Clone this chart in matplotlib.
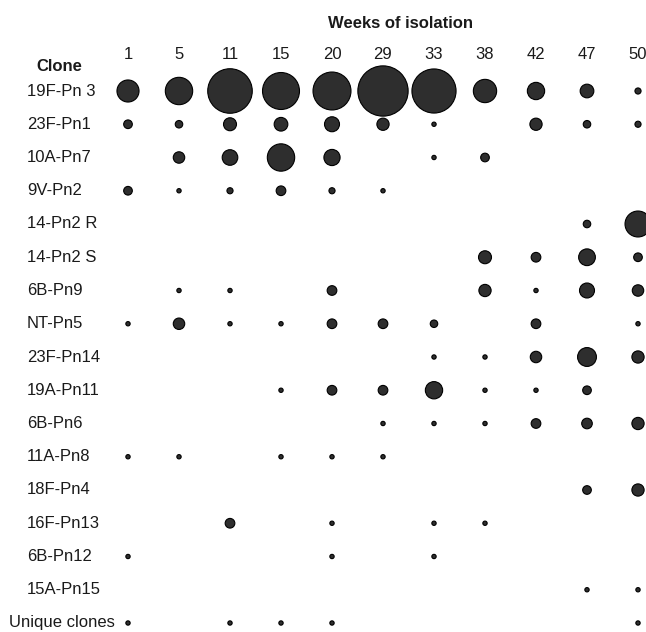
import matplotlib
matplotlib.use("Agg")
import matplotlib.pyplot as plt
import numpy as np

plt.rcParams["font.family"] = ["Liberation Sans", "DejaVu Sans"]

# ******************
# Data
# ******************
weeks = [1, 5, 11, 15, 20, 29, 33, 38, 42, 47, 50]

clones = ["19F-Pn 3", "23F-Pn1", "10A-Pn7", "9V-Pn2", "14-Pn2 R", "14-Pn2 S",
          "6B-Pn9", "NT-Pn5", "23F-Pn14", "19A-Pn11", "6B-Pn6", "11A-Pn8",
          "18F-Pn4", "16F-Pn13", "6B-Pn12", "15A-Pn15", "Unique clones"]

# isolates per clone and week (0 = none)
c_19f_pn3 = [26, 40, 106, 73, 77, 135, 104, 29, 16, 10, 2]
c_23f_pn1 = [4, 3, 9, 10, 12, 8, 1, 0, 8, 3, 2]
c_10a_pn7 = [0, 7, 13, 40, 14, 0, 1, 4, 0, 0, 0]
c_9v_pn2 = [4, 1, 2, 5, 2, 1, 0, 0, 0, 0, 0]
c_14_pn2r = [0, 0, 0, 0, 0, 0, 0, 0, 0, 3, 36]
c_14_pn2s = [0, 0, 0, 0, 0, 0, 0, 9, 5, 15, 4]
c_6b_pn9 = [0, 1, 1, 0, 5, 0, 0, 8, 1, 12, 7]
c_nt_pn5 = [1, 7, 1, 1, 5, 5, 3, 0, 5, 0, 1]
c_23f_pn14 = [0, 0, 0, 0, 0, 0, 1, 1, 7, 19, 8]
c_19a_pn11 = [0, 0, 0, 1, 5, 5, 16, 1, 1, 4, 0]
c_6b_pn6 = [0, 0, 0, 0, 0, 1, 1, 1, 5, 6, 8]
c_11a_pn8 = [1, 1, 0, 1, 1, 1, 0, 0, 0, 0, 0]
c_18f_pn4 = [0, 0, 0, 0, 0, 0, 0, 0, 0, 4, 8]
c_16f_pn13 = [0, 0, 5, 0, 1, 0, 1, 1, 0, 0, 0]
c_6b_pn12 = [1, 0, 0, 0, 1, 0, 1, 0, 0, 0, 0]
c_15a_pn15 = [0, 0, 0, 0, 0, 0, 0, 0, 0, 1, 1]
c_unique = [1, 0, 1, 1, 1, 0, 0, 0, 0, 0, 1]

counts = np.array([c_19f_pn3, c_23f_pn1, c_10a_pn7, c_9v_pn2, c_14_pn2r, c_14_pn2s,
                   c_6b_pn9, c_nt_pn5, c_23f_pn14, c_19a_pn11, c_6b_pn6, c_11a_pn8,
                   c_18f_pn4, c_16f_pn13, c_6b_pn12, c_15a_pn15, c_unique])

# ******************
# Layout (pixels)
# ******************
W, H = 646, 632
col0, col_step = 128, 51.0
row0, row_step = 91, 33.25
size_per_isolate = 9.7   # points^2 per isolate

fig = plt.figure(figsize=(W / 100, H / 100), dpi=100)
ax = fig.add_axes([0, 0, 1, 1])
ax.set_xlim(-col0 / col_step, (W - col0) / col_step)
ax.set_ylim((H - row0) / row_step, -row0 / row_step)
ax.axis("off")

# ******************
# Bubbles
# ******************
rows, cols = np.nonzero(counts)
ax.scatter(cols, rows, s=counts[rows, cols] * size_per_isolate,
           facecolor="#2e2e2e", edgecolor="black", linewidth=0.8, zorder=3)

# ******************
# Text
# ******************
txt = "#1a1a1a"
for i, w in enumerate(weeks):
    ax.text(i, -1.1, str(w), ha="center", va="center", fontsize=12, color=txt)

for j, name in enumerate(clones):
    x = (9 - col0) / col_step if name == "Unique clones" else (27 - col0) / col_step
    ax.text(x, j, name, ha="left", va="center", fontsize=12, color=txt)

ax.text((36 - col0) / col_step, -0.75, "Clone", ha="left", va="center",
        fontsize=12, fontweight="bold", color=txt)
ax.text((400 - col0) / col_step, (23 - row0) / row_step, "Weeks of isolation",
        ha="center", va="center", fontsize=12, fontweight="bold", color=txt)

fig.savefig("out.png", dpi=100)
